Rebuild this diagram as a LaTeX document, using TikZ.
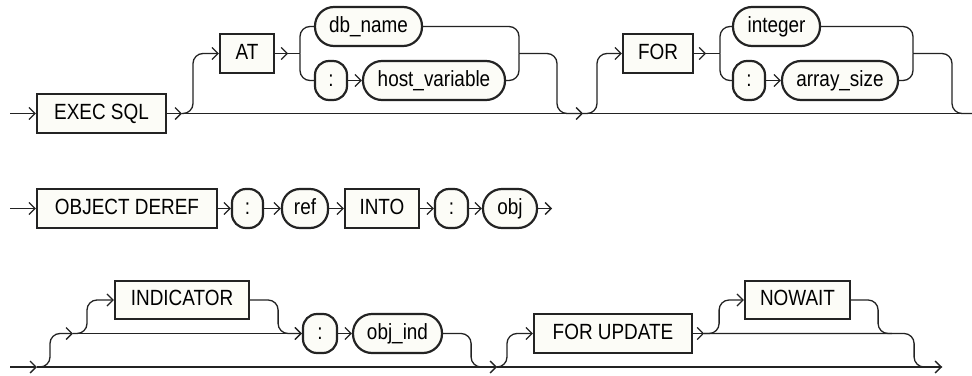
\documentclass[tikz,border=0pt]{standalone}
\usepackage{fontspec}
\setmainfont{Liberation Sans}[FakeStretch=0.86]
\usetikzlibrary{arrows.meta}
\definecolor{fillc}{RGB}{252,252,247}
\definecolor{linec}{RGB}{35,35,35}
\begin{document}
\begin{tikzpicture}[x=1pt,y=-1pt,
  conn/.style={draw=linec,line width=1.3pt,rounded corners=10pt},
  arr/.style={-{Straight Barb[length=6pt,width=12pt]}},
  kw/.style={draw=linec,fill=fillc,line width=2.2pt,rectangle,minimum height=39pt,inner sep=0pt,
    font=\fontsize{22}{22}\selectfont,text height=15pt,text depth=4pt},
  term/.style={kw,rounded corners=19pt},
  colon/.style={kw,rounded corners=14pt}]
\useasboundingbox (0,0) rectangle (972,375);

% ---------- Row 1 ----------
\node[kw,minimum width=129pt] (exec) at (101.5,113.5) {EXEC SQL};
\node[kw,minimum width=54pt] (at) at (247,53.5) {AT};
\node[term,minimum width=107pt] (dbname) at (368.5,26.5) {db\_name};
\node[colon,minimum width=32pt] (colA) at (331,80.5) {:};
\node[term,minimum width=142pt] (hostvar) at (434,80.5) {host\_variable};
\node[kw,minimum width=70pt] (for) at (658,53.5) {FOR};
\node[term,minimum width=87pt] (integer) at (776.5,26.5) {integer};
\node[colon,minimum width=32pt] (colB) at (749,80.5) {:};
\node[term,minimum width=116pt] (arrsize) at (840,80.5) {array\_size};

\coordinate (s1) at (10,113.5);
\coordinate (a1) at (182,113.5);
\coordinate (a2) at (583,113.5);
\coordinate (e1) at (972,113.5);
\coordinate (sp1) at (300,53.5);
\coordinate (mg1) at (519,53.5);
\coordinate (sp2) at (720,53.5);
\coordinate (mg2) at (913,53.5);

\draw[conn,arr] (s1) -- (exec.west);
\draw[conn,arr] (exec.east) -- (a1);
\draw[conn] (a1) -- (e1);
\draw[conn,arr] (a1) -- ++(11,0) |- (at.west);
\draw[conn,arr] (at.east) -- ++(13,0) coordinate (a3);
\draw[conn] (a3) -- (sp1);
\draw[conn] (sp1) |- (dbname.west);
\draw[conn] (sp1) |- (colA.west);
\draw[conn,arr] (colA.east) -- (hostvar.west);
\draw[conn] (dbname.east) -| (mg1);
\draw[conn] (hostvar.east) -| (mg1);
\draw[conn,arr] (mg1) -- ++(38,0) |- (a2);
\draw[conn,arr] (a2) -- ++(14,0) |- (for.west);
\draw[conn,arr] (for.east) -- ++(12,0) coordinate (a4);
\draw[conn] (a4) -- (sp2);
\draw[conn] (sp2) |- (integer.west);
\draw[conn] (sp2) |- (colB.west);
\draw[conn,arr] (colB.east) -- (arrsize.west);
\draw[conn] (integer.east) -| (mg2);
\draw[conn] (arrsize.east) -| (mg2);
\draw[conn] (mg2) -- ++(39,0) |- (e1);

% ---------- Row 2 ----------
\node[kw,minimum width=180pt] (objd) at (127,208.5) {OBJECT DEREF};
\node[colon,minimum width=31pt] (colC) at (247.5,208.5) {:};
\node[term,minimum width=46pt,rounded corners=18pt] (ref) at (305,208.5) {ref};
\node[kw,minimum width=74pt] (into) at (382,208.5) {INTO};
\node[colon,minimum width=33pt] (colD) at (451.5,208.5) {:};
\node[term,minimum width=54pt] (obj) at (510,208.5) {obj};
\coordinate (s2) at (10,208.5);
\coordinate (e2) at (552,208.5);
\draw[conn,arr] (s2) -- (objd.west);
\draw[conn,arr] (objd.east) -- (colC.west);
\draw[conn,arr] (colC.east) -- (ref.west);
\draw[conn,arr] (ref.east) -- (into.west);
\draw[conn,arr] (into.east) -- (colD.west);
\draw[conn,arr] (colD.east) -- (obj.west);
\draw[conn,arr] (obj.east) -- (e2);

% ---------- Row 3 ----------
\node[kw,minimum width=134pt,minimum height=38pt] (ind) at (182,300) {INDICATOR};
\node[colon,minimum width=34pt] (colE) at (320,333.5) {:};
\node[term,minimum width=89pt] (objind) at (397.5,333.5) {obj\_ind};
\node[kw,minimum width=158pt] (forupd) at (613,333.5) {FOR UPDATE};
\node[kw,minimum width=105pt,minimum height=38pt] (nowait) at (797.5,300) {NOWAIT};

\coordinate (s3) at (10,367);
\coordinate (a5) at (37,367);
\coordinate (a6) at (73,333.5);
\coordinate (a7) at (497,367);
\coordinate (e3) at (942,367);
\coordinate (m3) at (892,333.5);

\draw[conn,arr] (s3) -- (a5);
\draw[conn,arr] (a5) -- (a7);
\draw[conn,arr] (a5) -- ++(13,0) |- (a6);
\draw[conn,arr] (a6) -- (colE.west);
\draw[conn,arr] (a6) -- ++(14,0) |- (ind.west);
\draw[conn,arr] (ind.east) -- ++(28,0) |- (colE.west);
\draw[conn,arr] (colE.east) -- (objind.west);
\draw[conn] (objind.east) -- ++(28,0) |- (a7);
\draw[conn,arr] (a7) -- (e3);
\draw[conn,arr] (a7) -- ++(10,0) |- (forupd.west);
\draw[conn,arr] (forupd.east) -- ++(11,0) coordinate (a8);
\draw[conn,arr] (a8) -- ++(15,0) |- (nowait.west);
\draw[conn] (nowait.east) -- ++(27,0) |- (m3);
\draw[conn] (a8) -- ++(210,0) |- (e3);
\end{tikzpicture}
\end{document}
